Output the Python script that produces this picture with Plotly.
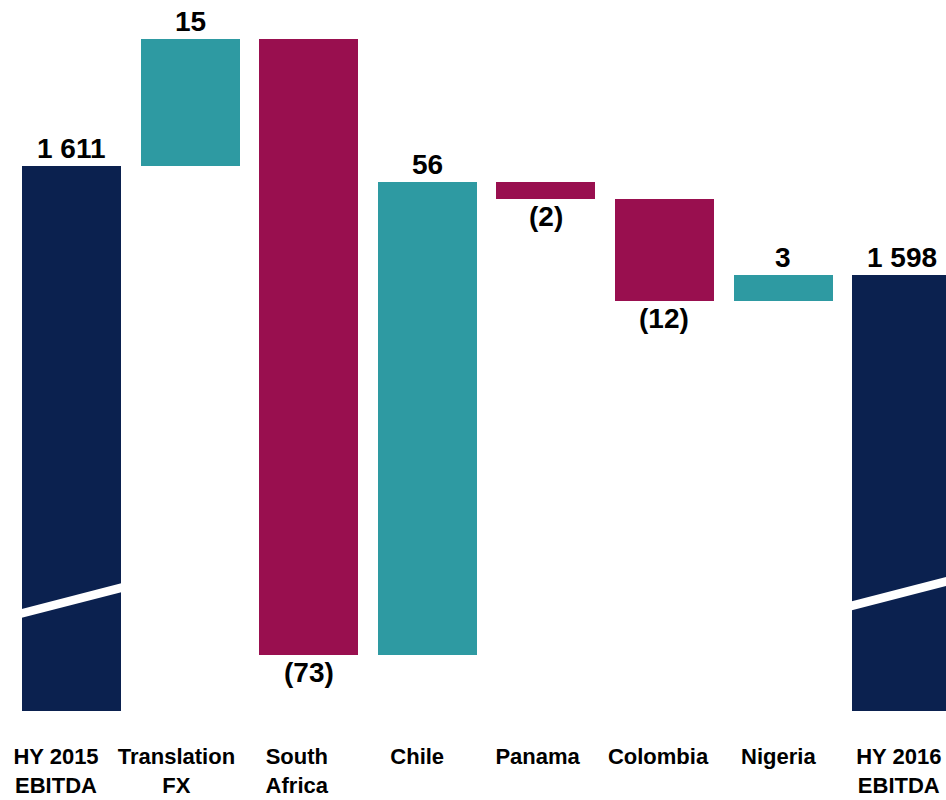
import plotly.graph_objects as go

categories = ["HY 2015<br>EBITDA", "Translation<br>FX", "South<br>Africa", "Chile",
              "Panama", "Colombia", "Nigeria", "HY 2016<br>EBITDA"]
start_total = 1611
deltas = [15, -73, 56, -2, -12, 3]
end_total = 1598

NAVY = "#0B214F"
TEAL = "#2E9AA2"
MAGENTA = "#990F4F"

n = len(categories)
xs = list(range(n))

bases, heights, colors, labels, label_y, label_anchor = [], [], [], [], [], []
bases.append(0); heights.append(start_total); colors.append(NAVY)
labels.append(f"{start_total:,}".replace(",", " ")); label_y.append(start_total); label_anchor.append("bottom")
run = start_total
for d in deltas:
    if d >= 0:
        bases.append(run); heights.append(d); colors.append(TEAL)
        labels.append(str(d)); label_y.append(run + d); label_anchor.append("bottom")
    else:
        bases.append(run + d); heights.append(-d); colors.append(MAGENTA)
        labels.append(f"({-d})"); label_y.append(run + d); label_anchor.append("top")
    run += d
bases.append(0); heights.append(end_total); colors.append(NAVY)
labels.append(f"{end_total:,}".replace(",", " ")); label_y.append(end_total); label_anchor.append("bottom")

BAR_W = 0.835
Y_RANGE = [1546.36, 1630.62]

fig = go.Figure()
fig.add_trace(go.Bar(x=xs, y=heights, base=bases, marker=dict(color=colors, line=dict(width=0)),
                     width=BAR_W, hoverinfo="skip", showlegend=False))
fig.add_trace(go.Scatter(x=xs, y=[None] * n, xaxis="x2", mode="markers", showlegend=False,
                         hoverinfo="skip"))

for x, t, y, a in zip(xs, labels, label_y, label_anchor):
    fig.add_annotation(x=x, y=y, text=f"<b>{t}</b>", showarrow=False, yanchor=a,
                       xanchor="center", font=dict(size=28, color="black",
                                                   family="Liberation Sans, Arial"),
                       yshift=0)

break_idx = [0, n - 1]
break_lo = [1557.9, 1558.8]
break_hi = [1561.0, 1561.9]
half = 0.53
for i, lo, hi in zip(break_idx, break_lo, break_hi):
    x0 = xs[i] - BAR_W / 2 - 0.01
    x1 = xs[i] + BAR_W / 2 + 0.01
    path = (f"M {x0},{lo - half} L {x1},{hi - half} L {x1},{hi + half} "
            f"L {x0},{lo + half} Z")
    fig.add_shape(type="path", path=path, xref="x", yref="y",
                  fillcolor="white", line=dict(width=0), layer="above")

fig.update_layout(
    width=946, height=800,
    margin=dict(l=0, r=0, t=0, b=89),
    plot_bgcolor="white", paper_bgcolor="white",
    bargap=0,
    xaxis=dict(range=[-0.603, 7.374], showticklabels=False, showgrid=False,
               zeroline=False, showline=False, ticks=""),
    xaxis2=dict(range=[-0.465, 7.392], overlaying="x", side="bottom", anchor="y",
                tickmode="array", tickvals=xs, ticktext=[f"<b>{c}</b>" for c in categories],
                tickfont=dict(size=22, color="black", family="Liberation Sans, Arial"),
                showgrid=False, zeroline=False, showline=False,
                ticks="outside", ticklen=26, tickcolor="rgba(0,0,0,0)"),
    yaxis=dict(range=Y_RANGE, visible=False, showgrid=False, zeroline=False),
)

fig.write_html("out.html")
